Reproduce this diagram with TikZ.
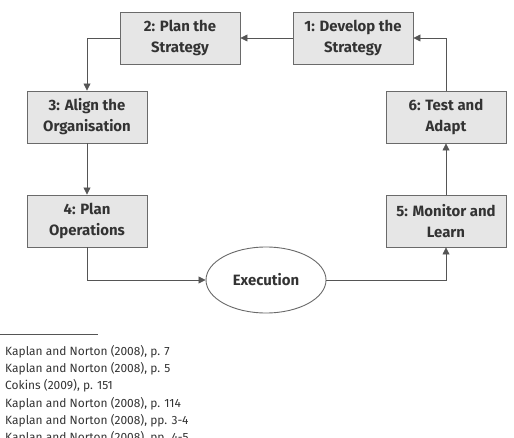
\documentclass[tikz,border=0pt]{standalone}
\usepackage{fontspec}
\setmainfont{Fira Sans}
\usetikzlibrary{arrows.meta,shapes.geometric}
\definecolor{boxfill}{HTML}{E6E6E6}
\definecolor{boxline}{HTML}{6A6A6A}
\definecolor{txt}{HTML}{333333}
\definecolor{arr}{HTML}{555555}
\tikzset{
  stepbox/.style={draw=boxline, fill=boxfill, line width=0.9bp, minimum width=120bp, minimum height=52bp,
    align=center, font=\bfseries\fontsize{15}{21}\selectfont, text=txt, inner sep=0pt},
  execnode/.style={draw=boxline, ellipse, fill=white, line width=0.9bp, minimum width=120bp, minimum height=66bp,
    font=\bfseries\fontsize{15}{21}\selectfont, text=txt, inner sep=0pt},
  flow/.style={draw=arr, line width=0.8bp, -{Triangle[length=7bp,width=7bp]}},
  fnote/.style={anchor=west, font=\fontsize{12}{17}\selectfont, text=txt, inner sep=0pt}
}
\begin{document}
\begin{tikzpicture}[x=1bp,y=-1bp]
\useasboundingbox (0,0) rectangle (514,438);
\clip (0,0) rectangle (514,438);
\node[stepbox] (s2) at (180,38) {2: Plan the\\Strategy};
\node[stepbox] (s1) at (353,38) {1: Develop the\\Strategy};
\node[stepbox] (s3) at (87,117) {3: Align the\\Organisation};
\node[stepbox] (s6) at (446,117) {6: Test and\\Adapt};
\node[stepbox] (s4) at (87,221) {4: Plan\\Operations};
\node[stepbox] (s5) at (446,221) {5: Monitor and\\Learn};
\node[execnode] (ex) at (266,280) {Execution};
\draw[flow] (s1.west) -- (s2.east);
\draw[flow] (s6.north) |- (s1.east);
\draw[flow] (s2.west) -| (s3.north);
\draw[flow] (s3.south) -- (s4.north);
\draw[flow] (s4.south) |- (ex.west);
\draw[flow] (ex.east) -| (s5.south);
\draw[flow] (s5.north) -- (s6.south);
\coordinate (r0) at (0,334);
\coordinate (r1) at (98,334);
\draw[draw=arr, line width=0.8bp] (r0) -- (r1);
\node[fnote] (f1) at (5,352) {Kaplan and Norton (2008), p. 7};
\node[fnote] (f2) at (5,369) {Kaplan and Norton (2008), p. 5};
\node[fnote] (f3) at (5,386) {Cokins (2009), p. 151};
\node[fnote] (f4) at (5,404) {Kaplan and Norton (2008), p. 114};
\node[fnote] (f5) at (5,421) {Kaplan and Norton (2008), pp. 3-4};
\node[fnote] (f6) at (5,438) {Kaplan and Norton (2008), pp. 4-5};
\end{tikzpicture}
\end{document}
